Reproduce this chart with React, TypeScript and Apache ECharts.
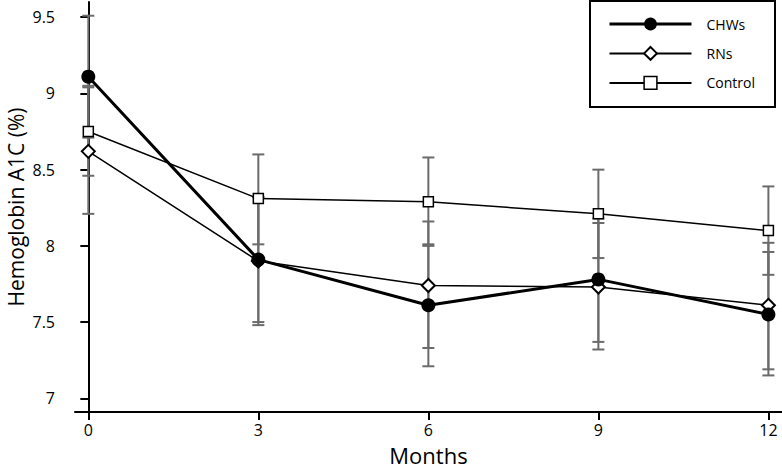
import React, { useEffect, useRef } from "react";
import * as echarts from "echarts";

const months = [0, 3, 6, 9, 12];
const chws = [9.11, 7.91, 7.61, 7.78, 7.55];
const chwsLo = [8.71, 7.5, 7.21, 7.37, 7.15];
const chwsHi = [9.51, 8.32, 8.01, 8.18, 7.96];
const rns = [8.62, 7.9, 7.74, 7.73, 7.61];
const rnsLo = [8.21, 7.48, 7.33, 7.32, 7.19];
const rnsHi = [9.04, 8.32, 8.16, 8.15, 8.02];
const control = [8.75, 8.31, 8.29, 8.21, 8.1];
const controlLo = [8.46, 8.01, 8.0, 7.92, 7.81];
const controlHi = [9.05, 8.6, 8.58, 8.5, 8.39];
const yTicks = [7, 7.5, 8, 8.5, 9, 9.5];
const yTickLabels = ["7", "7.5", "8", "8.5", "9", "9.5"];
const xTicks = [0, 3, 6, 9, 12];

const FONT = "Open Sans";

function errSeries(lo: number[], hi: number[]) {
  return {
    type: "custom",
    silent: true,
    z: 1,
    data: months.map((m, i) => [m, lo[i], hi[i]]),
    encode: { x: 0, y: [1, 2] },
    renderItem: (params: any, api: any) => {
      const x = api.value(0);
      const pLo = api.coord([x, api.value(1)]);
      const pHi = api.coord([x, api.value(2)]);
      const w = 6;
      const style = { stroke: "#6b6b6b", lineWidth: 2 };
      return {
        type: "group",
        children: [
          { type: "line", shape: { x1: pLo[0], y1: pLo[1], x2: pHi[0], y2: pHi[1] }, style },
          { type: "line", shape: { x1: pLo[0] - w, y1: pLo[1], x2: pLo[0] + w, y2: pLo[1] }, style },
          { type: "line", shape: { x1: pHi[0] - w, y1: pHi[1], x2: pHi[0] + w, y2: pHi[1] }, style },
        ],
      };
    },
  };
}

export default function App() {
  const ref = useRef<HTMLDivElement>(null);
  useEffect(() => {
    if (!ref.current) return;
    const chart = echarts.init(ref.current, null, { renderer: "svg" });
    chart.setOption({
      animation: false,
      backgroundColor: "#fff",
      grid: { left: 75, top: 2, width: 707, height: 410, containLabel: false, outerBoundsMode: "none" },
      legend: {
        orient: "vertical",
        right: 7,
        top: 1,
        borderColor: "#000",
        borderWidth: 2,
        borderRadius: 0,
        padding: [16, 20, 17, 18],
        itemWidth: 82,
        itemHeight: 16,
        itemGap: 15,
        textStyle: { fontSize: 14, fontFamily: FONT, color: "#000", padding: [0, 0, 0, 10] },
        data: [
          {
            name: "CHWs",
            lineStyle: { width: 3, color: "#000" },
            itemStyle: { color: "#000", borderWidth: 0 },
          },
          {
            name: "RNs",
            lineStyle: { width: 2, color: "#000" },
            itemStyle: { color: "#fff", borderColor: "#000", borderWidth: 2 },
          },
          {
            name: "Control",
            lineStyle: { width: 2, color: "#000" },
            itemStyle: { color: "#fff", borderColor: "#000", borderWidth: 1.5 },
          },
        ],
      },
      xAxis: {
        type: "value",
        min: -0.235,
        max: 12.24,
        name: "Months",
        nameLocation: "middle",
        nameGap: 32,
        nameMoveOverlap: false,
        nameTextStyle: { fontSize: 22, fontFamily: FONT, color: "#000" },
        splitLine: { show: false },
        axisLine: { onZero: false, lineStyle: { color: "#000", width: 2 } },
        axisTick: { customValues: xTicks, length: 8, lineStyle: { color: "#000", width: 2 } },
        axisLabel: { customValues: xTicks, margin: 10, fontSize: 16, fontFamily: FONT, color: "#000" },
      },
      yAxis: {
        type: "value",
        min: 6.91,
        max: 9.6,
        name: "Hemoglobin A1C (%)",
        nameLocation: "middle",
        nameGap: 48,
        nameMoveOverlap: false,
        nameTextStyle: { fontSize: 21, lineHeight: 22, fontFamily: FONT, color: "#000" },
        splitLine: { show: false },
        axisLine: { lineStyle: { color: "#000", width: 2 } },
        axisTick: { customValues: yTicks, length: 8, lineStyle: { color: "#000", width: 2 } },
        axisLabel: {
          customValues: yTicks,
          margin: 20,
          fontSize: 16,
          fontFamily: FONT,
          color: "#000",
          formatter: (v: number) => {
            const i = yTicks.indexOf(v);
            return i >= 0 ? yTickLabels[i] : String(v);
          },
        },
      },
      series: [
        errSeries(chwsLo, chwsHi),
        errSeries(rnsLo, rnsHi),
        errSeries(controlLo, controlHi),
        {
          name: "Control",
          type: "line",
          z: 3,
          data: months.map((m, i) => [m, control[i]]),
          symbol: "rect",
          symbolSize: 10,
          lineStyle: { color: "#000", width: 1.5 },
          itemStyle: { color: "#fff", borderColor: "#000", borderWidth: 1.5 },
        },
        {
          name: "RNs",
          type: "line",
          z: 4,
          data: months.map((m, i) => [m, rns[i]]),
          symbol: "diamond",
          symbolSize: 13,
          lineStyle: { color: "#000", width: 1.5 },
          itemStyle: { color: "#fff", borderColor: "#000", borderWidth: 2 },
        },
        {
          name: "CHWs",
          type: "line",
          z: 5,
          data: months.map((m, i) => [m, chws[i]]),
          symbol: "circle",
          symbolSize: 14,
          lineStyle: { color: "#000", width: 3 },
          itemStyle: { color: "#000", borderColor: "#000", borderWidth: 0 },
        },
      ],
    });
    return () => chart.dispose();
  }, []);
  return <div ref={ref} style={{ width: 782, height: 472, position: "absolute", left: 0, top: 0 }} />;
}
